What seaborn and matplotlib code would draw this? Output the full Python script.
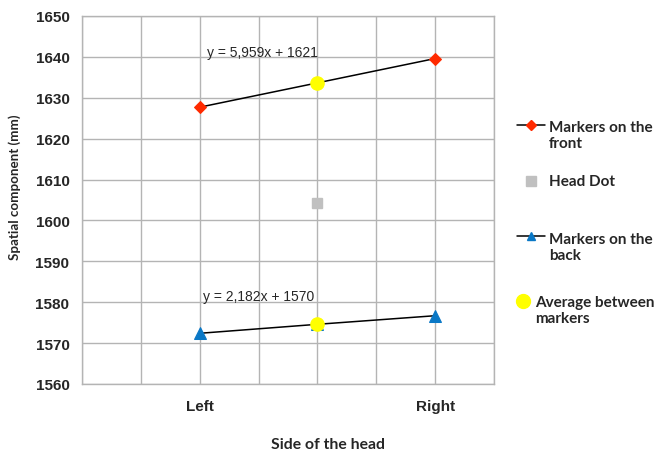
import numpy as np
import pandas as pd
import matplotlib
matplotlib.use("Agg")
import matplotlib.pyplot as plt
from matplotlib.lines import Line2D
import seaborn as sns

# Dados
lados = ["Left", "", "Right"]
x_pos = [1, 2, 3]

frente_x = [1, 3]
frente_y = [1627.7, 1639.6]

costas_x = [1, 2, 3]
costas_y = [1572.4, 1574.6, 1576.7]

cabeca_x = [2]
cabeca_y = [1604.3]

media_x = [2, 2]
media_y = [1633.7, 1574.6]

eq_frente = "y = 5,959x + 1621"
eq_costas = "y = 2,182x + 1570"

legenda = ["Markers on the\nfront", "Head Dot", "Markers on the\nback",
           "Average between\nmarkers"]

VERMELHO = "#ff2a00"
AZUL = "#0a78c6"
CINZA = "#c0c0c0"
AMARELO = "#ffff00"

sns.set_theme(style="white")
plt.rcParams["font.family"] = ["Liberation Sans", "DejaVu Sans"]

W, H = 659, 452
fig = plt.figure(figsize=(W / 100, H / 100), dpi=100)
ax = fig.add_axes([82 / W, 1 - 385 / H, 412 / W, 368 / H])

df_frente = pd.DataFrame({"x": frente_x, "y": frente_y})
df_costas = pd.DataFrame({"x": costas_x, "y": costas_y})

sns.lineplot(data=df_frente, x="x", y="y", ax=ax, color="black", linewidth=1.1,
             marker="D", markersize=6.5, markerfacecolor=VERMELHO,
             markeredgecolor=VERMELHO, zorder=3)
sns.lineplot(data=df_costas, x="x", y="y", ax=ax, color="black", linewidth=1.1,
             marker="^", markersize=8.5, markerfacecolor=AZUL,
             markeredgecolor=AZUL, zorder=3)
ax.plot(cabeca_x, cabeca_y, ls="none", marker="s", markersize=7,
        color=CINZA, zorder=3)
ax.plot(media_x, media_y, ls="none", marker="o", markersize=9.5,
        color=AMARELO, zorder=4)

fonte_eq = ["Liberation Sans Narrow", "Liberation Sans"]
ax.text(1.53, 1641.2, eq_frente, ha="center", va="center", fontsize=10,
        family=fonte_eq)
ax.text(1.50, 1581.5, eq_costas, ha="center", va="center", fontsize=10,
        family=fonte_eq)

ax.set_xlim(0, 3.5)
ax.set_ylim(1560, 1650)
ax.set_yticks(np.arange(1560, 1651, 10))
ax.set_xticks(np.arange(0, 3.51, 0.5))
ax.set_xticklabels(["", "", lados[0], "", lados[1], "", lados[2], ""])
ax.grid(True, color="#b4b4b4", linewidth=1)
for s in ax.spines.values():
    s.set_color("#b4b4b4")
    s.set_linewidth(1)
ax.tick_params(axis="y", length=3, color="#b4b4b4", labelsize=11, pad=6)
ax.tick_params(axis="x", length=0, labelsize=11, pad=11)
for lbl in ax.get_yticklabels() + ax.get_xticklabels():
    lbl.set_fontweight("bold")
ax.set_xlabel("")
ax.set_ylabel("")

def fx(px):
    return px / W

def fy(py):
    return 1 - py / H

fonte_leg = ["Lato", "DejaVu Sans"]
fig.text(fx(328), fy(445), "Side of the head", ha="center", va="center",
         fontsize=11.3, fontweight="bold", family=fonte_leg)
fig.text(fx(15), fy(187), "Spatial component (mm)", ha="center", va="center",
         rotation=90, fontsize=9.6, fontweight="bold", family=fonte_leg)

# Legenda desenhada à mão para seguir o espaçamento do original
def linha_leg(y, marker, cor, ms):
    fig.add_artist(Line2D([fx(517), fx(545)], [fy(y), fy(y)], color="black",
                          linewidth=1.1, transform=fig.transFigure))
    fig.add_artist(Line2D([fx(531)], [fy(y)], ls="none", marker=marker,
                          markersize=ms, color=cor, transform=fig.transFigure))

def ponto_leg(x, y, marker, cor, ms):
    fig.add_artist(Line2D([fx(x)], [fy(y)], ls="none", marker=marker,
                          markersize=ms, color=cor, transform=fig.transFigure))

def texto_leg(x, y, s):
    fig.text(fx(x), fy(y), s, ha="left", va="center", fontsize=11,
             fontweight="bold", family=fonte_leg, linespacing=1.2)

linha_leg(126, "D", VERMELHO, 5)
texto_leg(549, 136, legenda[0])
ponto_leg(531, 182, "s", CINZA, 6.5)
texto_leg(549, 182, legenda[1])
linha_leg(237, "^", AZUL, 6)
texto_leg(549, 248, legenda[2])
ponto_leg(523, 302, "o", AMARELO, 10)
texto_leg(535, 311, legenda[3])

fig.savefig("out.png", dpi=100)
